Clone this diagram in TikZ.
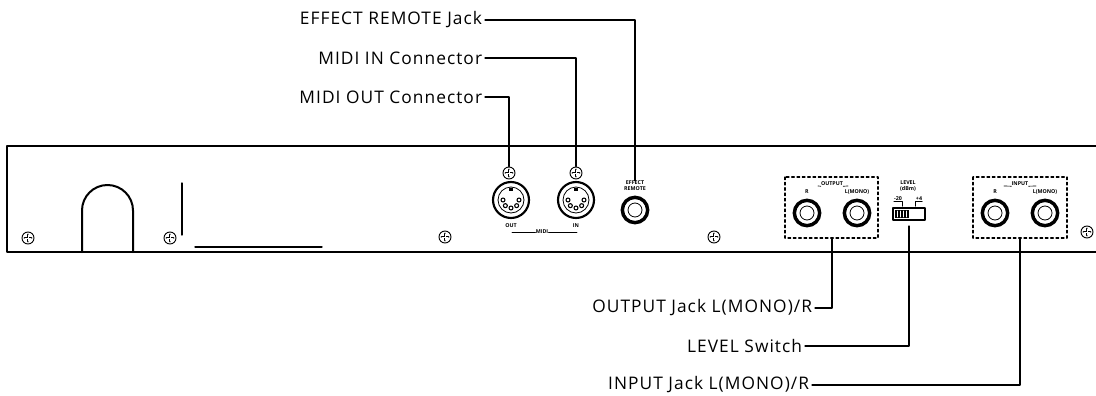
\documentclass[tikz,border=0pt]{standalone}
\usepackage{fontspec}
\setmainfont{Open Sans}
\newfontfamily\notefont[LetterSpace=6]{Open Sans}
\usetikzlibrary{positioning}

\begin{document}
\begin{tikzpicture}[x=0.75pt,y=-0.75pt,line cap=round,line join=round,
  panel/.style={line width=1.5pt},
  leader/.style={line width=0.8pt},
  lbl/.style={anchor=east,inner sep=2pt,font=\notefont\fontsize{13}{15}\selectfont},
  tinylbl/.style={inner sep=0pt,font=\fontsize{4}{4.5}\selectfont\bfseries},
  screw/.style={circle,draw,line width=0.7pt,minimum size=9pt,inner sep=0pt},
  jack/.style={circle,draw,line width=2.6pt,minimum size=19pt,inner sep=0pt},
  din/.style={circle,draw,line width=1.6pt,minimum size=27pt,inner sep=0pt},
  jackbox/.style={line width=0.9pt,dash pattern=on 2pt off 2pt}]
\useasboundingbox (0,0) rectangle (1096,396);
% panel
\draw[panel] (1096,146) -- (7,146) -- (7,252) -- (1096,252);
\draw[panel] (82,252) -- (82,210.5) arc[start angle=180,end angle=360,radius=25.5] -- (133,252);
\draw[line width=1pt] (182,183) -- (182,235);
\draw[line width=1pt] (195,247) -- (322,247);
% screws
\foreach \n/\sx/\sy in {s1/28/238,s2/170/238,s3/445/237,s4/714/237,s5/1087/232,sout/509/173,sin/576/173}{
  \node[screw] (\n) at (\sx,\sy) {};
  \draw[line width=2pt] (\sx-3.2,\sy) -- (\sx+3.2,\sy) (\sx,\sy-3.2) -- (\sx,\sy+3.2);
  \draw[white,line width=0.7pt] (\sx-3.2,\sy) -- (\sx+3.2,\sy) (\sx,\sy-3.2) -- (\sx,\sy+3.2);
}
% MIDI sockets
\foreach \n/\cx in {midiout/511,midiin/576}{
  \node[din] (\n) at (\cx,200) {};
  \draw[line width=0.6pt] (\cx,200) circle[radius=13];
  \fill (\cx-2,187.5) rectangle (\cx+2,190.5);
  \foreach \a in {0,45,90,135,180}
    \draw[line width=0.8pt] ({\cx+8*cos(\a)},{200+8*sin(\a)}) circle[radius=2];
}
\node[tinylbl] at (511,226) {OUT};
\node[tinylbl] at (576,226) {IN};
\node[tinylbl] (midi) at (542,232) {MIDI};
\draw[line width=0.5pt] (512,232) -- (midi.west) (midi.east) -- (577,232);
% effect remote
\node[tinylbl,align=center] (effectlbl) at (635,186) {EFFECT\\REMOTE};
\node[jack] (effect) at (635,210) {};
\draw[line width=0.6pt] (effect) circle[radius=7];
% output / input
\draw[jackbox] (785,177) rectangle (878,238);
\draw[jackbox] (973,177) rectangle (1067,238);
\foreach \n/\cx in {outr/807,outl/857,inr/995,inl/1045}{
  \node[jack] (\n) at (\cx,213) {};
  \draw[line width=0.6pt] (\n) circle[radius=7];
}
\foreach \t/\cx in {R/807,L(MONO)/857,R/995,L(MONO)/1045}
  \node[tinylbl] at (\cx,192) {\t};
\node[tinylbl] (outtitle) at (832,184) {OUTPUT};
\draw[line width=0.5pt] (818,186) -- (outtitle.south west) (outtitle.south east) -- (848,186);
\node[tinylbl] (intitle) at (1020,184) {INPUT};
\draw[line width=0.5pt] (1004,186) -- (intitle.south west) (intitle.south east) -- (1036,186);
% level switch
\node[tinylbl,align=center] (lvltitle) at (908,186) {LEVEL\\(dBm)};
\node[tinylbl] (m20) at (898,199) {-20};
\node[tinylbl] (p4) at (919,199) {+4};
\draw[line width=0.5pt] (m20.south west) -- (m20.south east) -- ++(0,5);
\draw[line width=0.5pt] (p4.south east) -- (p4.south west) -- ++(0,5);
\draw[line width=0.8pt] (893,208) rectangle (925,220);
\fill (895,210) rectangle (909,218);
\foreach \k in {897,900,903,906}
  \draw[white,line width=0.5pt] (\k,211) -- (\k,217);
\coordinate (lvlend) at (909,226);
% labels
\node[lbl] (effectnote) at (485,20) {EFFECT REMOTE Jack};
\node[lbl] (midiinnote) at (485,58) {MIDI IN Connector};
\node[lbl] (midioutnote) at (485,97) {MIDI OUT Connector};
\node[lbl] (outnote) at (815,308) {OUTPUT Jack L(MONO)/R};
\node[lbl] (lvlnote) at (805,346) {LEVEL Switch};
\node[lbl] (innote) at (812,385) {INPUT Jack L(MONO)/R};
% leaders
\draw[leader] (effectnote.east) -| (effectlbl.north);
\draw[leader] (midiinnote.east) -| (sin.north);
\draw[leader] (midioutnote.east) -| (sout.north);
\draw[leader] (outnote.east) -| (832,238);
\draw[leader] (lvlnote.east) -| (lvlend);
\draw[leader] (innote.east) -| (1020,238);
\end{tikzpicture}
\end{document}
